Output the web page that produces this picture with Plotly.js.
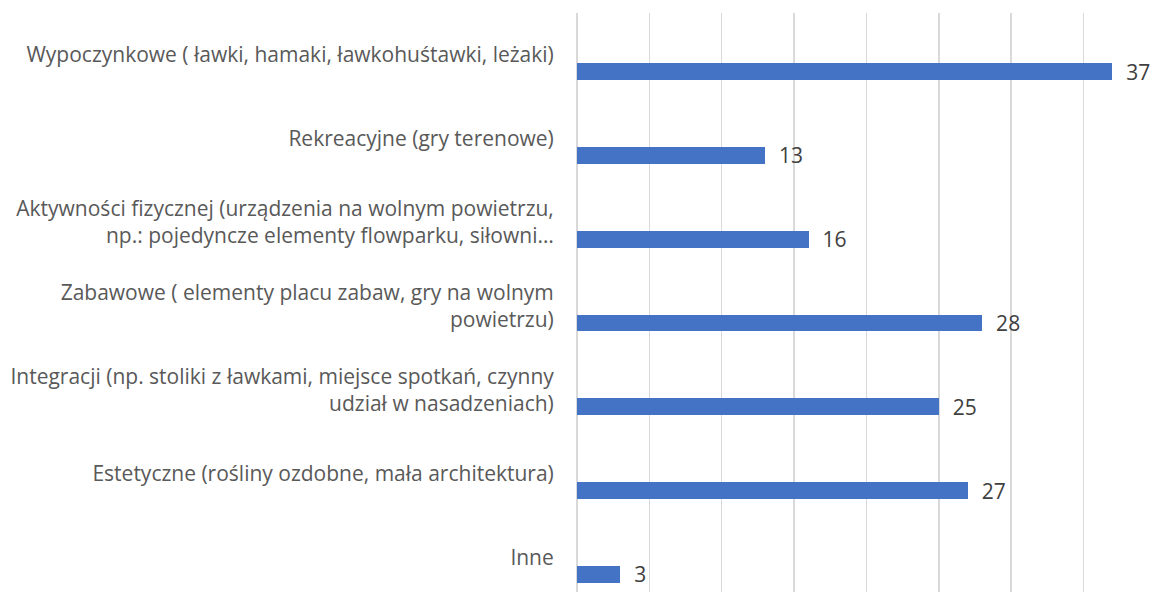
<!DOCTYPE html>
<html>
<head>
<meta charset="utf-8">
<script src="https://cdn.plot.ly/plotly-3.0.1.min.js"></script>
<style>html,body{margin:0;padding:0;background:#fff;}#chart{width:1155px;height:592px;}</style>
</head>
<body>
<div id="chart"></div>
<script>
const categories = [
  "Wypoczynkowe ( ławki, hamaki, ławkohuśtawki, leżaki)",
  "Rekreacyjne (gry terenowe)",
  "Aktywności fizycznej (urządzenia na wolnym powietrzu,<br>np.: pojedyncze elementy flowparku, siłowni…",
  "Zabawowe ( elementy placu zabaw, gry na wolnym<br>powietrzu)",
  "Integracji (np. stoliki z ławkami, miejsce spotkań, czynny<br>udział w nasadzeniach)",
  "Estetyczne (rośliny ozdobne, mała architektura)",
  "Inne"
];
const values = [37, 13, 16, 28, 25, 27, 3];

const FONT = '"Open Sans", "Noto Sans", sans-serif';

const trace = {
  type: 'bar',
  orientation: 'h',
  x: values,
  y: categories,
  width: 0.2,
  offset: 0.1,
  marker: {color: '#4472C4'},
  text: values.map(v => '\u00a0\u00a0' + v),
  textposition: 'outside',
  constraintext: 'none',
  cliponaxis: false,
  textfont: {family: FONT, size: 21, color: '#404040'},
  hoverinfo: 'skip'
};

const layout = {
  width: 1155,
  height: 592,
  margin: {l: 577, r: 0, t: 13, b: 0, pad: 0},
  paper_bgcolor: '#ffffff',
  plot_bgcolor: '#ffffff',
  showlegend: false,
  bargap: 0,
  font: {family: FONT, size: 21, color: '#595959'},
  xaxis: {
    range: [0, 39.94],
    dtick: 5,
    tick0: 0,
    showgrid: true,
    gridcolor: '#d9d9d9',
    gridwidth: 1.5,
    zeroline: true,
    zerolinecolor: '#d9d9d9',
    zerolinewidth: 1.5,
    showticklabels: false,
    ticks: '',
    showline: false,
    fixedrange: true
  },
  yaxis: {
    type: 'category',
    range: [6.41, -0.5],
    showgrid: false,
    zeroline: false,
    showline: false,
    ticks: 'outside',
    ticklen: 18,
    tickcolor: 'rgba(0,0,0,0)',
    tickfont: {family: FONT, size: 21, color: '#595959'},
    fixedrange: true
  }
};

Plotly.newPlot('chart', [trace], layout, {displayModeBar: false, staticPlot: true});
</script>
</body>
</html>
